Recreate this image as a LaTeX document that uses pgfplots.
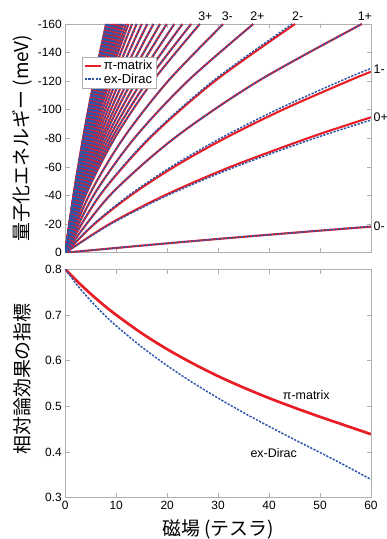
\documentclass[border=0pt]{standalone}
\usepackage{fontspec}
\setmainfont{Liberation Sans}
\newfontfamily\jp{Noto Sans CJK JP}
\usepackage{pgfplots}
\pgfplotsset{compat=1.18}
\definecolor{myred}{RGB}{232,30,38}
\definecolor{myblue}{RGB}{45,85,170}
\definecolor{axgray}{RGB}{175,175,175}
\pgfplotsset{
  common/.style={scale only axis, width=305.7bp, xmin=0, xmax=60, xtick={0,10,20,30,40,50,60},
    tick align=inside, axis line style={draw=axgray, line width=0.6bp},
    major tick style={draw=axgray, line width=0.6bp}, major tick length=4.3bp,
    /pgf/number format/assume math mode=true,
    tick label style={font=\fontsize{12}{12}\selectfont},
    clip mode=individual},
  R/.style={color=myred, line width=2.1bp, smooth, forget plot},
  B/.style={color=myblue, line width=1.5bp, dash pattern=on 2.2bp off 1.4bp, smooth, forget plot},
}
\newcommand\lev[5]{\addplot[#1] coordinates {(0,0) (#2,-40) (#3,-80) (#4,-120) (#5,-160)};}
\newcommand\levels[1]{%
\lev{#1}{8.73}{21.34}{37.83}{58.2}
\lev{#1}{4.65}{11.37}{20.15}{31.0}
\lev{#1}{5.535}{13.53}{23.99}{36.9}
\lev{#1}{3.96}{9.68}{17.16}{26.4}
\lev{#1}{3.754}{9.122}{16.10}{24.7}
\lev{#1}{3.542}{8.556}{15.04}{23.0}
\lev{#1}{3.338}{8.018}{14.04}{21.4}
\lev{#1}{3.144}{7.508}{13.09}{19.9}
\lev{#1}{2.976}{7.068}{12.28}{18.6}
\lev{#1}{2.803}{6.621}{11.45}{17.3}
\lev{#1}{2.640}{6.203}{10.69}{16.1}
\lev{#1}{2.490}{5.820}{9.99}{15.0}
\lev{#1}{2.352}{5.470}{9.352}{14.0}
\lev{#1}{2.227}{5.152}{8.777}{13.1}
\lev{#1}{2.133}{4.910}{8.333}{12.4}
\lev{#1}{2.071}{4.745}{8.021}{11.9}
\lev{#1}{2.006}{4.575}{7.706}{11.4}
\lev{#1}{1.958}{4.444}{7.458}{11.0}
\lev{#1}{1.908}{4.311}{7.208}{10.6}
\lev{#1}{1.866}{4.195}{6.991}{10.25}
\lev{#1}{1.822}{4.079}{6.772}{9.9}
\lev{#1}{1.786}{3.981}{6.586}{9.6}
\lev{#1}{1.748}{3.881}{6.398}{9.3}
\lev{#1}{1.720}{3.801}{6.245}{9.05}
\lev{#1}{1.690}{3.720}{6.090}{8.8}
\lev{#1}{1.668}{3.658}{5.968}{8.6}
\lev{#1}{1.646}{3.595}{5.846}{8.4}
\lev{#1}{1.624}{3.532}{5.724}{8.2}
\lev{#1}{1.600}{3.467}{5.600}{8.0}
}
\begin{document}
\begin{tikzpicture}
\path[use as bounding box] (0bp,0bp) rectangle (387bp,539bp);
% ---------- top panel ----------
\begin{axis}[common, at={(65.3bp,286.3bp)}, anchor=south west, height=228.7bp,
  y dir=reverse, ymin=-160, ymax=0, ytick={-160,-140,-120,-100,-80,-60,-40,-20,0},
  xticklabels={},
  ylabel={\jp 量子化エネルギー (meV)},
  ylabel style={at={(axis description cs:-0.1416,0.5)}, anchor=center, font=\fontsize{19}{19}\selectfont},
  legend style={at={(0.054,0.857)}, anchor=north west, draw=axgray, fill=white,
    font=\fontsize{13}{14}\selectfont, inner sep=1.5bp, row sep=-1.5bp},
  legend cell align=left,
  legend image code/.code={\draw[#1] (0bp,0bp) -- (16bp,0bp);},
]
\addlegendimage{color=myred, line width=2.4bp}
\addlegendentry{π-matrix}
\addlegendimage{color=myblue, line width=1.5bp, dash pattern=on 2.2bp off 1.4bp}
\addlegendentry{ex-Dirac}
% red (pi-matrix)
\addplot[R] coordinates {(0,0) (15.11,-5) (31.26,-10) (48.45,-15) (60,-18.2)};
\addplot[R] coordinates {(0,0) (8.64,-20) (19.44,-40) (32.39,-60) (47.51,-80) (55.88,-90) (60,-94.7)};
\addplot[R] coordinates {(0,0) (5.69,-20) (12.80,-40) (21.33,-60) (31.29,-80) (42.66,-100) (55.46,-120) (60,-126.6)};
\lev{R}{6.765}{16.54}{29.32}{45.1}
\levels{R}
% blue (ex-Dirac)
\addplot[B] coordinates {(0,0) (15.11,-5) (31.26,-10) (48.45,-15) (60,-18.4)};
\addplot[B] coordinates {(0,0) (8.89,-20) (20.00,-40) (33.33,-60) (48.88,-80) (60,-92.8)};
\addplot[B] coordinates {(0,0) (5.53,-20) (12.45,-40) (20.75,-60) (30.43,-80) (41.50,-100) (53.95,-120) (60,-129)};
\lev{B}{6.675}{16.32}{28.93}{44.5}
\levels{B}
% level labels
\begin{scope}[every node/.style={inner sep=0pt, font=\fontsize{12.5}{12.5}\selectfont}]
\node[anchor=west, xshift=2.5bp] at (axis cs:60,-18.2) {0-};
\node[anchor=west, xshift=2.5bp] at (axis cs:60,-94.9) {0+};
\node[anchor=west, xshift=2.5bp] at (axis cs:60,-128.5) {1-};
\node[anchor=south, yshift=3bp] at (axis cs:58.8,-160) {1+};
\node[anchor=south, yshift=3bp] at (axis cs:45.6,-160) {2-};
\node[anchor=south, yshift=3bp] at (axis cs:37.7,-160) {2+};
\node[anchor=south, yshift=3bp] at (axis cs:31.8,-160) {3-};
\node[anchor=south, yshift=3bp] at (axis cs:27.5,-160) {3+};
\end{scope}
\end{axis}
% ---------- bottom panel ----------
\begin{axis}[common, at={(65.3bp,41.3bp)}, anchor=south west, height=228.4bp,
  ymin=0.3, ymax=0.8, ytick={0.3,0.4,0.5,0.6,0.7,0.8},
  yticklabel style={/pgf/number format/.cd, fixed, fixed zerofill, precision=1},
  ylabel={\jp 相対論効果の指標},
  ylabel style={at={(axis description cs:-0.1416,0.52)}, anchor=center, font=\fontsize{19}{19}\selectfont},
  xlabel={\jp 磁場 (テスラ)},
  xlabel style={at={(axis description cs:0.5,-0.137)}, anchor=center, font=\fontsize{19}{19}\selectfont},
]
\addplot[color=myred, line width=2.7bp, smooth] coordinates {
(0,0.800) (2.5,0.772) (5,0.746) (7.5,0.722) (10,0.700) (15,0.660) (20,0.625) (25,0.594)
(30,0.566) (35,0.541) (40,0.518) (45,0.497) (50,0.477) (55,0.458) (60,0.439)};
\addplot[color=myblue, line width=1.5bp, dash pattern=on 2.2bp off 1.4bp, smooth] coordinates {
(0,0.800) (2.5,0.763) (5,0.731) (7.5,0.702) (10,0.676) (15,0.630) (20,0.589) (25,0.552)
(30,0.518) (35,0.486) (40,0.456) (45,0.427) (50,0.399) (55,0.370) (60,0.340)};
\node[font=\fontsize{12.5}{12.5}\selectfont] at (axis cs:47.3,0.525) {π-matrix};
\node[font=\fontsize{12.5}{12.5}\selectfont] at (axis cs:40.9,0.397) {ex-Dirac};
\end{axis}
\end{tikzpicture}
\end{document}
